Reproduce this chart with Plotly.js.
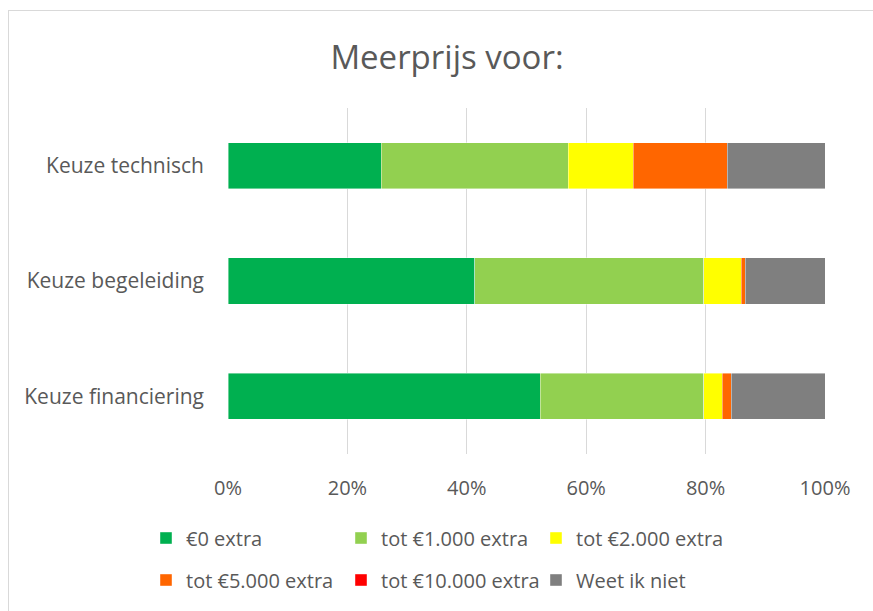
<!DOCTYPE html>
<html>
<head>
<meta charset="utf-8">
<script src="https://cdn.plot.ly/plotly-3.0.1.min.js"></script>
<style>
  html, body { margin: 0; padding: 0; background: #fff; }
  #wrap { position: relative; width: 873px; height: 611px; overflow: hidden; }
  #chart { width: 873px; height: 611px; }
  #frame { position: absolute; left: 8px; top: 10px; width: 900px; height: 700px;
           border-left: 1.5px solid #D9D9D9; border-top: 1.5px solid #D9D9D9;
           pointer-events: none; }
</style>
</head>
<body>
<div id="wrap">
  <div id="chart"></div>
  <div id="frame"></div>
</div>
<script>
const categories = ['Keuze technisch', 'Keuze begeleiding', 'Keuze financiering'];
const seriesNames = ['€0 extra', 'tot €1.000 extra', 'tot €2.000 extra',
                     'tot €5.000 extra', 'tot €10.000 extra', 'Weet ik niet'];
const s0 = [25.7, 41.3, 52.3];
const s1 = [31.3, 38.4, 27.4];
const s2 = [10.9, 6.3, 3.1];
const s3 = [15.7, 0.6, 1.5];
const s4 = [0, 0, 0];
const s5 = [16.4, 13.4, 15.7];
const seriesValues = [s0, s1, s2, s3, s4, s5];
const colors = ['#00B050', '#92D050', '#FFFF00', '#FF6600', '#FF0000', '#7F7F7F'];
const tickVals = [0, 20, 40, 60, 80, 100];
const tickLabels = ['0%', '20%', '40%', '60%', '80%', '100%'];

const traces = seriesValues.map((vals, i) => ({
  type: 'bar',
  orientation: 'h',
  name: seriesNames[i],
  y: categories,
  x: vals,
  marker: { color: colors[i], line: { color: 'rgba(255,255,255,0.6)', width: 0.7 } },
  legend: i < 3 ? 'legend' : 'legend2',
  hoverinfo: 'x+name'
}));

const font = { family: '"Open Sans", sans-serif', color: '#595959' };

const legendCommon = {
  orientation: 'h',
  xref: 'paper', yref: 'paper',
  xanchor: 'left', yanchor: 'middle',
  x: (146 - 228) / 597,
  entrywidth: 150, entrywidthmode: 'pixels',
  font: { family: font.family, color: '#595959', size: 20 },
  bgcolor: 'rgba(0,0,0,0)', borderwidth: 0,
  traceorder: 'normal'
};

const layout = {
  width: 873, height: 611,
  margin: { l: 228, r: 48, t: 108, b: 157 },
  paper_bgcolor: '#ffffff', plot_bgcolor: '#ffffff',
  font: font,
  title: { text: 'Meerprijs voor:', font: { family: font.family, size: 33, color: '#595959' },
           x: 447 / 873, xanchor: 'center', y: 1 - 57 / 611, yanchor: 'middle', xref: 'container', yref: 'container' },
  barmode: 'stack',
  barnorm: 'percent',
  bargap: 0.6,
  xaxis: {
    range: [0, 100], tickmode: 'array', tickvals: tickVals, ticktext: tickLabels,
    showgrid: true, gridcolor: '#D9D9D9', gridwidth: 1,
    zeroline: false, showline: false, ticks: '',
    ticklabelstandoff: 20,
    tickfont: { family: font.family, size: 20, color: '#595959' },
    fixedrange: true
  },
  yaxis: {
    type: 'category', categoryorder: 'array', categoryarray: categories,
    autorange: 'reversed',
    showgrid: false, zeroline: false, showline: false, ticks: '',
    ticklabelstandoff: 23,
    tickfont: { family: font.family, size: 21, color: '#595959' },
    fixedrange: true
  },
  legend: Object.assign({}, legendCommon, { y: (454 - 538) / 346 }),
  legend2: Object.assign({}, legendCommon, { y: (454 - 580) / 346 }),
  showlegend: true
};

Plotly.newPlot('chart', traces, layout, { displayModeBar: false });
</script>
</body>
</html>
